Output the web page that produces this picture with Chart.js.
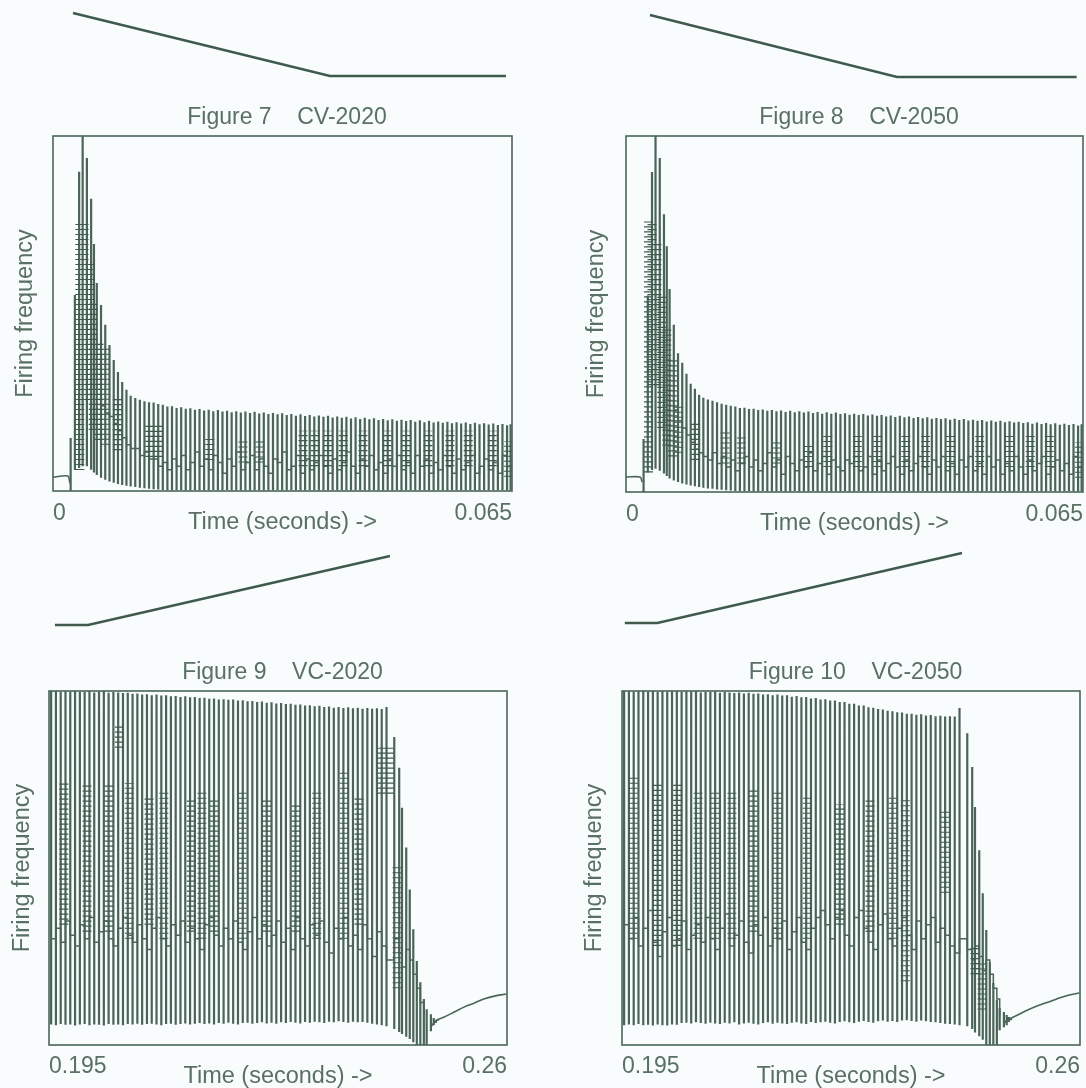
<!DOCTYPE html>
<html><head><meta charset="utf-8">
<script src="https://cdn.jsdelivr.net/npm/chart.js@4/dist/chart.umd.min.js"></script>
<style>
html,body{margin:0;padding:0;background:#f8fcfc;overflow:hidden}
#page{position:relative;width:1086px;height:1088px;overflow:hidden;background:#f8fcfc}
canvas{position:absolute}
</style></head><body><div id="page"></div>
<script>
// ---------- values (y is % of the axis height, x in seconds) ----------
const titles = ['Figure 7    CV-2020','Figure 8    CV-2050','Figure 9    VC-2020','Figure 10    VC-2050'];
const xAxisTitle = 'Time (seconds) ->';
const yAxisTitle = 'Firing frequency';
const ticksCV = [0, 0.065];
const ticksVC = [0.195, 0.26];
const tickTextCV = ['0','0.065'];
const tickTextVC = ['0.195','0.26'];

const spikeTimesCV = [.0025,.0031,.0037,.0042,.0048,.0054,.0058,.0062,.0068,.0074,.0080,.0086,.0092,.0098,.0104,.01100,.01165,.01230,.01295,.01360,.01425,.01490,.01555,.01620,.01685,.01750,.01815,.01880,.01945,.02010,.02075,.02140,.02205,.02270,.02335,.02400,.02465,.02530,.02595,.02660,.02725,.02790,.02855,.02920,.02985,.03050,.03115,.03180,.03245,.03310,.03375,.03440,.03505,.03570,.03635,.03700,.03765,.03830,.03895,.03960,.04025,.04090,.04155,.04220,.04285,.04350,.04415,.04480,.04545,.04610,.04675,.04740,.04805,.04870,.04935,.05000,.05065,.05130,.05195,.05260,.05325,.05390,.05455,.05520,.05585,.05650,.05715,.05780,.05845,.05910,.05975,.06040,.06105,.06170,.06235,.06300,.06365,.06430,.06480];
const spikeTimesVC = [.19530,.19598,.19666,.19734,.19802,.19870,.19938,.20006,.20074,.20142,.20210,.20278,.20346,.20414,.20482,.20550,.20618,.20686,.20754,.20822,.20890,.20958,.21026,.21094,.21162,.21230,.21298,.21366,.21434,.21502,.21570,.21638,.21706,.21774,.21842,.21910,.21978,.22046,.22114,.22182,.22250,.22318,.22386,.22454,.22522,.22590,.22658,.22726,.22794,.22862,.22930,.22998,.23066,.23134,.23202,.23270,.23338,.23406,.23474,.23542,.23610,.23678,.23746,.23814,.23882,.23950,.24018,.24086,.24154,.24222,.24290,.2440,.2447,.2451,.2457,.2462,.2467,.2472,.2477,.2482,.2486,.2492,.2496,.2499,.2502];

const peaks7 = [14.9,55.2,89.9,100,93.8,82.3,69.6,58.6,52.4,46.8,41.1,36.9,33.5,30.7,28.5,26.8,26.2,25.7,25.3,25.0,24.9,24.5,24.3,23.8,23.9,23.4,23.6,23.2,23.3,22.9,23.1,22.7,22.9,22.5,22.8,22.4,22.6,22.2,22.5,22.1,22.4,22.0,22.3,21.8,22.1,21.7,22.0,21.6,21.9,21.4,21.7,21.2,21.6,21.1,21.4,21.0,21.3,20.9,21.2,20.7,21.0,20.6,20.9,20.4,20.8,20.3,20.6,20.2,20.5,20.0,20.3,19.9,20.2,19.8,20.1,19.7,20.0,19.5,19.9,19.4,19.8,19.3,19.6,19.2,19.5,19.1,19.4,19.0,19.3,18.9,19.2,18.8,19.1,18.7,19.0,18.6,18.9,18.5,18.8];
const troughs7 = [0,5.9,6.5,7,7,6,5.2,4.5,3.7,3.2,2.7,2.3,2,1.7,1.5,1.3,1.1,.9,.8,.6,.5,.4,.3,.3,.2,.2,.3,.2,.2,.3,.2,.2,.2,.3,.2,.2,.3,.2,.2,.2,.3,.2,.2,.3,.2,.2,.2,.3,.2,.2,.3,.2,.2,.2,.3,.2,.2,.3,.2,.2,.2,.3,.2,.2,.3,.2,.2,.2,.3,.2,.2,.3,.2,.2,.2,.3,.2,.2,.3,.2,.2,.2,.3,.2,.2,.3,.2,.2,.2,.3,.2,.2,.3,.2,.2,.2,.3,.2,.2];
const band7 = [null,null,null,null,null,null,null,null,24,22,21,19,17,15,13,12,12,10,11,9,9,7,8,6,9,7,10,6,8,11,7,9,6,10,8,5,9,7,11,6,8,10,6,9,7,5,9,8,11,6,7,10,5,9,6,8,10,7,5,9,6,8,11,7,5,9,7,10,6,8,5,9,7,10,6,8,5,10,7,9,5,8,6,10,7,5,9,6,8,10,5,7,9,6,8,5,10,7,6];
const burstTimes7 = [.0038,.0044,.0052,.0057,.0065,.0074,.0091,.0137,.0149,.0222,.0269,.0293,.0354,.0371,.0389,.0411,.0439,.0473,.0500,.0531,.0562,.0588,.0622,.0645];
const burstTops7 = [76.3,76.3,65,53.8,42.5,41,26.5,19,19,15,15,15,17,17,17,17,17,17,17,17,17,17,17,14];
const burstBottoms7 = [5.9,25.6,25.6,17.2,14.4,13,11.5,9.6,9.6,8.7,8,8,7,7,7,7,7,7,7,7,7,7,7,4];
const preTraceTimes7 = [0,.0021,.0024];
const preTraceValues7 = [3.9,4.2,2.2];

const peaks8 = [14.9,55.2,89.9,100,93.8,78,69,57,47,39,36.3,33.2,30.4,29,27.3,26.5,26.0,25.6,25.2,24.8,24.5,24.2,24.0,23.6,23.7,23.3,23.4,23.0,23.2,22.8,23.0,22.7,22.9,22.5,22.8,22.4,22.7,22.3,22.6,22.2,22.5,22.0,22.4,22.0,22.3,21.9,22.1,21.7,22.0,21.6,21.9,21.5,21.8,21.4,21.6,21.2,21.5,21.1,21.4,21.0,21.2,20.8,21.1,20.7,21.0,20.6,20.8,20.5,20.7,20.3,20.6,20.2,20.5,20.1,20.3,20.0,20.2,19.8,20.1,19.7,20.0,19.6,19.9,19.5,19.7,19.4,19.6,19.2,19.5,19.1,19.4,19.0,19.3,18.9,19.2,18.8,19.1,18.7,19.0];
const troughs8 = [0,5.5,6.2,6.5,6,5.2,4.5,3.8,3.2,2.8,2.4,2.1,1.8,1.6,1.4,1.2,1,.9,.7,.6,.5,.4,.3,.3,.2,.3,.2,.2,.3,.2,.2,.2,.3,.2,.2,.3,.2,.2,.2,.3,.2,.2,.3,.2,.2,.2,.3,.2,.2,.3,.2,.2,.2,.3,.2,.2,.3,.2,.2,.2,.3,.2,.2,.3,.2,.2,.2,.3,.2,.2,.3,.2,.2,.2,.3,.2,.2,.3,.2,.2,.2,.3,.2,.2,.3,.2,.2,.2,.3,.2,.2,.3,.2,.2,.2,.3,.2,.2,.2];
const band8 = [null,null,null,null,null,null,null,null,23,20,18,16,14,12,11,10,9,11,8,10,7,9,6,8,10,7,9,6,8,11,7,9,5,10,8,6,9,7,11,6,8,10,5,9,7,6,9,8,10,6,7,10,5,9,6,8,10,7,5,9,6,8,10,7,5,9,7,10,6,8,5,9,7,10,6,8,5,10,7,9,5,8,6,10,7,5,9,6,8,10,5,7,9,6,8,5,10,7,6];
const burstTimes8 = [.0032,.0037,.0044,.0051,.0058,.0066,.0075,.0099,.0141,.0164,.0214,.0259,.0287,.0329,.0358,.0398,.0426,.0462,.0503,.0545,.0575,.0602,.0645];
const burstTops8 = [76,76,70,55,46,38,24,20,17,16,15,14,16,16,16,16,16,16,16,16,16,16,14];
const burstBottoms8 = [5.5,30,30,18,13,10,11,9,8,8,8,7,7,7,7,7,7,7,7,7,7,7,4];
const preTraceTimes8 = [0,.0020,.0023];
const preTraceValues8 = [4.2,4.2,2.8];

const peaks9 = [100,100,99.8,100,99.8,100,99.7,99.8,100,99.6,99.8,100,99.5,99.7,99.6,99.4,99.5,99.2,99.3,99,99.1,98.8,99,98.7,98.8,98.5,98.6,98.3,98.5,98.2,98.3,98,98.1,97.8,97.9,97.6,97.7,97.5,97.6,97.3,97.4,97.1,97.2,96.9,97,96.7,96.8,96.5,96.6,96.3,96.4,96.1,96.2,95.9,96,95.7,95.8,95.5,95.6,95.3,95.5,95.2,95.4,95.1,95.3,95,95.2,95,95.1,94.9,95.5,87,78.3,67,55.8,43.9,32.7,23.7,17.7,13,10.1,8.7,7.6,7,6.8];
const troughs9 = [5.8,5.6,5.9,5.7,5.8,5.5,5.8,5.9,5.6,5.8,5.7,5.5,5.9,5.7,5.8,5.6,5.9,5.8,6,5.7,5.9,6,5.8,5.6,5.9,6,5.7,5.9,6.1,5.8,6,6.2,5.9,6.1,5.8,6.2,6,6.3,6,5.8,6.2,6.3,6,6.2,6.4,6.1,6.3,6,6.4,6.2,6.5,6.3,6.1,6.5,6.3,6.6,6.4,6.2,6.6,6.4,6.7,6.5,6.3,6.6,6.4,6.5,6.3,6,5.8,5.6,5.3,4.5,3.7,3.1,2.3,1.7,.8,0,0,0,0,3.9,5.6,6.2,7];
const band9 = [30,33,29,35,31,28,34,30,36,29,32,35,30,28,33,36,31,29,34,30,27,33,36,30,28,34,31,35,29,33,30,27,34,36,31,28,33,30,35,29,27,32,36,30,34,28,31,35,29,33,27,36,30,28,34,31,35,29,26,33,30,36,28,31,27,34,30,25,32,28,24,30,26,22,27,24,20,16,12,8];
const burstTimes9 = [.1971,.2004,.2035,.2050,.2064,.2092,.2113,.2152,.2167,.2184,.2224,.2259,.2301,.2330,.2369,.2390,.2423,.2433,.2444];
const burstTops9 = [74,74,74,90,74,70,72,70,72,70,72,70,68,72,78,70,84,84,51];
const burstBottoms9 = [34,32,32,84,30,34,30,32,30,32,30,32,32,30,30,34,71,71,16];
const postCurveTimes9 = [.2492,.2499,.2511,.2525,.2539,.2553,.2567,.2582,.2599];
const postCurveValues9 = [5.1,6.9,7.9,9.3,10.7,11.8,13,13.8,14.4];

const peaks10 = [100,100,99.8,100,100,99.8,100,99.7,100,99.8,99.9,100,99.7,99.9,99.8,100,99.6,99.8,99.7,99.9,99.5,99.7,99.6,99.4,99.6,99.3,99.5,99.2,99.3,99.0,99.1,98.8,99,98.7,98.8,98.4,98.6,98.2,98.3,97.9,98,97.6,97.7,97.3,97.3,96.9,96.9,96.4,96.4,95.9,95.9,95.4,95.3,94.9,94.8,94.4,94.3,94,93.9,93.6,93.6,93.3,93.4,93.1,93.2,92.9,93,92.8,92.9,92.8,95.2,88.1,78.5,67.2,55,42.9,32.5,23.4,17.5,12.7,10.5,9.3,8.5,7.9,7.6];
const troughs10 = [5.6,5.8,5.6,5.9,5.6,5.7,5.5,5.8,5.6,5.5,5.8,5.7,6.2,6.3,6.1,6.4,6.2,6,6.3,6.1,5.9,6.3,6.1,6.4,5.8,6.1,6.3,6,5.8,6.2,6.4,6,6.3,6.1,5.9,6.3,6.4,6.1,5.9,6.5,6.2,6.4,6.6,6.3,6.1,6.5,6.7,6.4,6.2,6.6,6.8,6.5,6.3,6.7,6.9,6.6,6.8,6.5,6.9,7,6.8,6.6,6.9,6.7,6.5,6.4,6.2,6,5.9,5.8,5.6,5.3,4.5,3.5,2.5,1.5,0,0,0,0,4.2,5,5.6,6.5,7];
const band10 = [34,30,36,28,33,38,29,25,32,36,28,30,35,27,31,34,29,36,30,27,33,37,28,31,35,29,26,34,31,36,28,33,30,35,27,32,36,29,27,33,36,38,34,30,36,38,31,28,36,38,33,29,27,34,37,30,28,33,36,31,27,35,30,34,36,29,33,31,28,26,30,27,24,28,25,21,24,20,16,13,8];
const burstTimes10 = [.1966,.2000,.2029,.2058,.2082,.2106,.2136,.2171,.2213,.2259,.2302,.2335,.2352,.2408,.2451,.2461];
const burstTops10 = [76,74,74,72,72,72,72,72,70,68,70,70,70,67,28,24];
const burstBottoms10 = [30,28,28,30,30,30,32,30,30,34,32,30,18,43,20,10];
const postCurveTimes10 = [.2492,.2499,.2511,.2525,.2539,.2553,.2567,.2582,.2599];
const postCurveValues10 = [6.2,7.3,8.4,9.8,11,12,13,14,14.7];

const rampTimes7 = [.00283,.03922,.06414];
const rampLevels7 = [.9,.1125,.1125];
const rampTimes8 = [.00341,.03855,.0641];
const rampLevels8 = [.875,.1,.1];
const rampTimes9 = [.1957,.2004,.24325];
const rampLevels9 = [.111,.111,.878];
const rampTimes10 = [.1954,.2,.24305];
const rampLevels10 = [.111,.111,.889];

// ---------- styling / layout ----------
const INK = '#4a6558', DARK = '#3f5a4d', TEXT = '#5a7065', PAPER = '#f8fcfc';
const FAMILY = '"Liberation Sans", Arial, sans-serif';
const font = size => ({family:FAMILY, size, weight:'normal', lineHeight:1.2});
const page = document.getElementById('page');

function addCanvas(left, top, w, h){
  const c = document.createElement('canvas');
  c.width = w; c.height = h;
  c.style.cssText = `left:${left}px;top:${top}px;width:${w}px;height:${h}px`;
  page.appendChild(c);
  return c;
}
const zip = (xs, ys) => ys.map((y,i) => ({x:xs[i], y}));
function spikePoints(times, tops, bottoms){
  const pts = [];
  tops.forEach((hi,i) => {
    pts.push({x:times[i], y:bottoms[i]}, {x:times[i], y:hi}, {x:times[i], y:null});
  });
  return pts;
}

const framePlugin = {
  id:'frame',
  afterLayout(chart){
    const t = chart.titleBlock;
    if (t) { t.left += 4.5; t.right += 4.5; }
  },
  afterDatasetsDraw(chart){
    const a = chart.chartArea, c = chart.ctx;
    c.save(); c.strokeStyle = INK; c.lineWidth = 1.6;
    c.strokeRect(a.left, a.top, a.right-a.left, a.bottom-a.top);
    c.restore();
  }
};

function mainChart(p){
  const W = p.r - p.canvasL + 3, XH = 46, H = 40 + (p.b-p.t) + XH;
  const c = addCanvas(p.canvasL, p.t-40, W, H);
  const line = (data, width, extra) => Object.assign({data, borderColor:INK, borderWidth:width, pointRadius:0, spanGaps:false, tension:0}, extra||{});
  const bursts = spikePoints(p.burstT, p.burstTop, p.burstBottom);
  new Chart(c, {
    type:'line',
    data:{datasets:[
      line(bursts, 9, {label:'burst specks', borderDash:[1.1,3.9], borderColor:DARK}),
      line(spikePoints(p.times, p.peaks, p.troughs), 2.2, {label:'spikes'}),
      line(zip(p.times, p.band), 1.5, {label:'band', stepped:true}),
      line(bursts, 7, {label:'burst gaps', borderDash:[1.2,3.1], borderColor:PAPER}),
      line(zip(p.traceT, p.traceV), 1.6, {label:'trace', tension:0.3})
    ]},
    options:{
      responsive:false, animation:false, devicePixelRatio:1,
      layout:{padding:{left:0,top:0,bottom:0,right:3}},
      plugins:{
        legend:{display:false}, tooltip:{enabled:false},
        title:{display:true, text:p.title, color:TEXT, font:font(23), fullSize:false,
               padding:{top:8,bottom:4.4}}
      },
      scales:{
        x:{type:'linear', min:p.ticks[0], max:p.ticks[1], border:{display:false}, grid:{display:false},
           afterBuildTicks:a => { a.ticks = p.ticks.map(v => ({value:v})); },
           afterFit:s => { s.height = XH; },
           ticks:{align:'inner', autoSkip:false, maxRotation:0, padding:p.tickPad, color:TEXT, font:font(23),
                  callback:(v) => p.tickText[p.ticks.indexOf(v)]},
           title:{display:true, text:xAxisTitle, color:TEXT, font:font(23.5), padding:{top:0,bottom:0}}},
        y:{type:'linear', min:0, max:100, border:{display:false}, grid:{display:false},
           afterFit:s => { s.width = p.l-p.canvasL; },
           ticks:{display:false},
           title:{display:true, text:yAxisTitle, color:TEXT, font:font(23.5), padding:{top:p.yPad,bottom:0}}}
      }
    },
    plugins:[framePlugin]
  });
}
function rampChart(r){
  const c = addCanvas(r.l, r.t, r.r-r.l, r.b-r.t);
  new Chart(c, {
    type:'line',
    data:{datasets:[{data:zip(r.times, r.levels), borderColor:DARK, borderWidth:2.4, pointRadius:0, tension:0, clip:false}]},
    options:{responsive:false, animation:false, devicePixelRatio:1,
      layout:{padding:0},
      plugins:{legend:{display:false},tooltip:{enabled:false}},
      scales:{x:{type:'linear',display:false,min:r.range[0],max:r.range[1]},
              y:{type:'linear',display:false,min:0,max:1}}}
  });
}

mainChart({title:titles[0], l:53,r:512,t:136,b:491, canvasL:0, yPad:11, tickPad:1,
  ticks:ticksCV, tickText:tickTextCV, times:spikeTimesCV, peaks:peaks7, troughs:troughs7, band:band7,
  burstT:burstTimes7, burstTop:burstTops7, burstBottom:burstBottoms7, traceT:preTraceTimes7, traceV:preTraceValues7});
mainChart({title:titles[1], l:626,r:1083,t:136,b:492, canvasL:580, yPad:2, tickPad:1,
  ticks:ticksCV, tickText:tickTextCV, times:spikeTimesCV, peaks:peaks8, troughs:troughs8, band:band8,
  burstT:burstTimes8, burstTop:burstTops8, burstBottom:burstBottoms8, traceT:preTraceTimes8, traceV:preTraceValues8});
mainChart({title:titles[2], l:49,r:507,t:691,b:1045, canvasL:0, yPad:8, tickPad:0,
  ticks:ticksVC, tickText:tickTextVC, times:spikeTimesVC, peaks:peaks9, troughs:troughs9, band:band9,
  burstT:burstTimes9, burstTop:burstTops9, burstBottom:burstBottoms9, traceT:postCurveTimes9, traceV:postCurveValues9});
mainChart({title:titles[3], l:622,r:1080,t:691,b:1045, canvasL:580, yPad:0, tickPad:0,
  ticks:ticksVC, tickText:tickTextVC, times:spikeTimesVC, peaks:peaks10, troughs:troughs10, band:band10,
  burstT:burstTimes10, burstTop:burstTops10, burstBottom:burstBottoms10, traceT:postCurveTimes10, traceV:postCurveValues10});

rampChart({l:53,r:512,t:5,b:85, range:ticksCV, times:rampTimes7, levels:rampLevels7});
rampChart({l:626,r:1083,t:5,b:85, range:ticksCV, times:rampTimes8, levels:rampLevels8});
rampChart({l:50,r:508,t:545,b:635, range:ticksVC, times:rampTimes9, levels:rampLevels9});
rampChart({l:622,r:1082,t:543,b:633, range:ticksVC, times:rampTimes10, levels:rampLevels10});
</script></body></html>
